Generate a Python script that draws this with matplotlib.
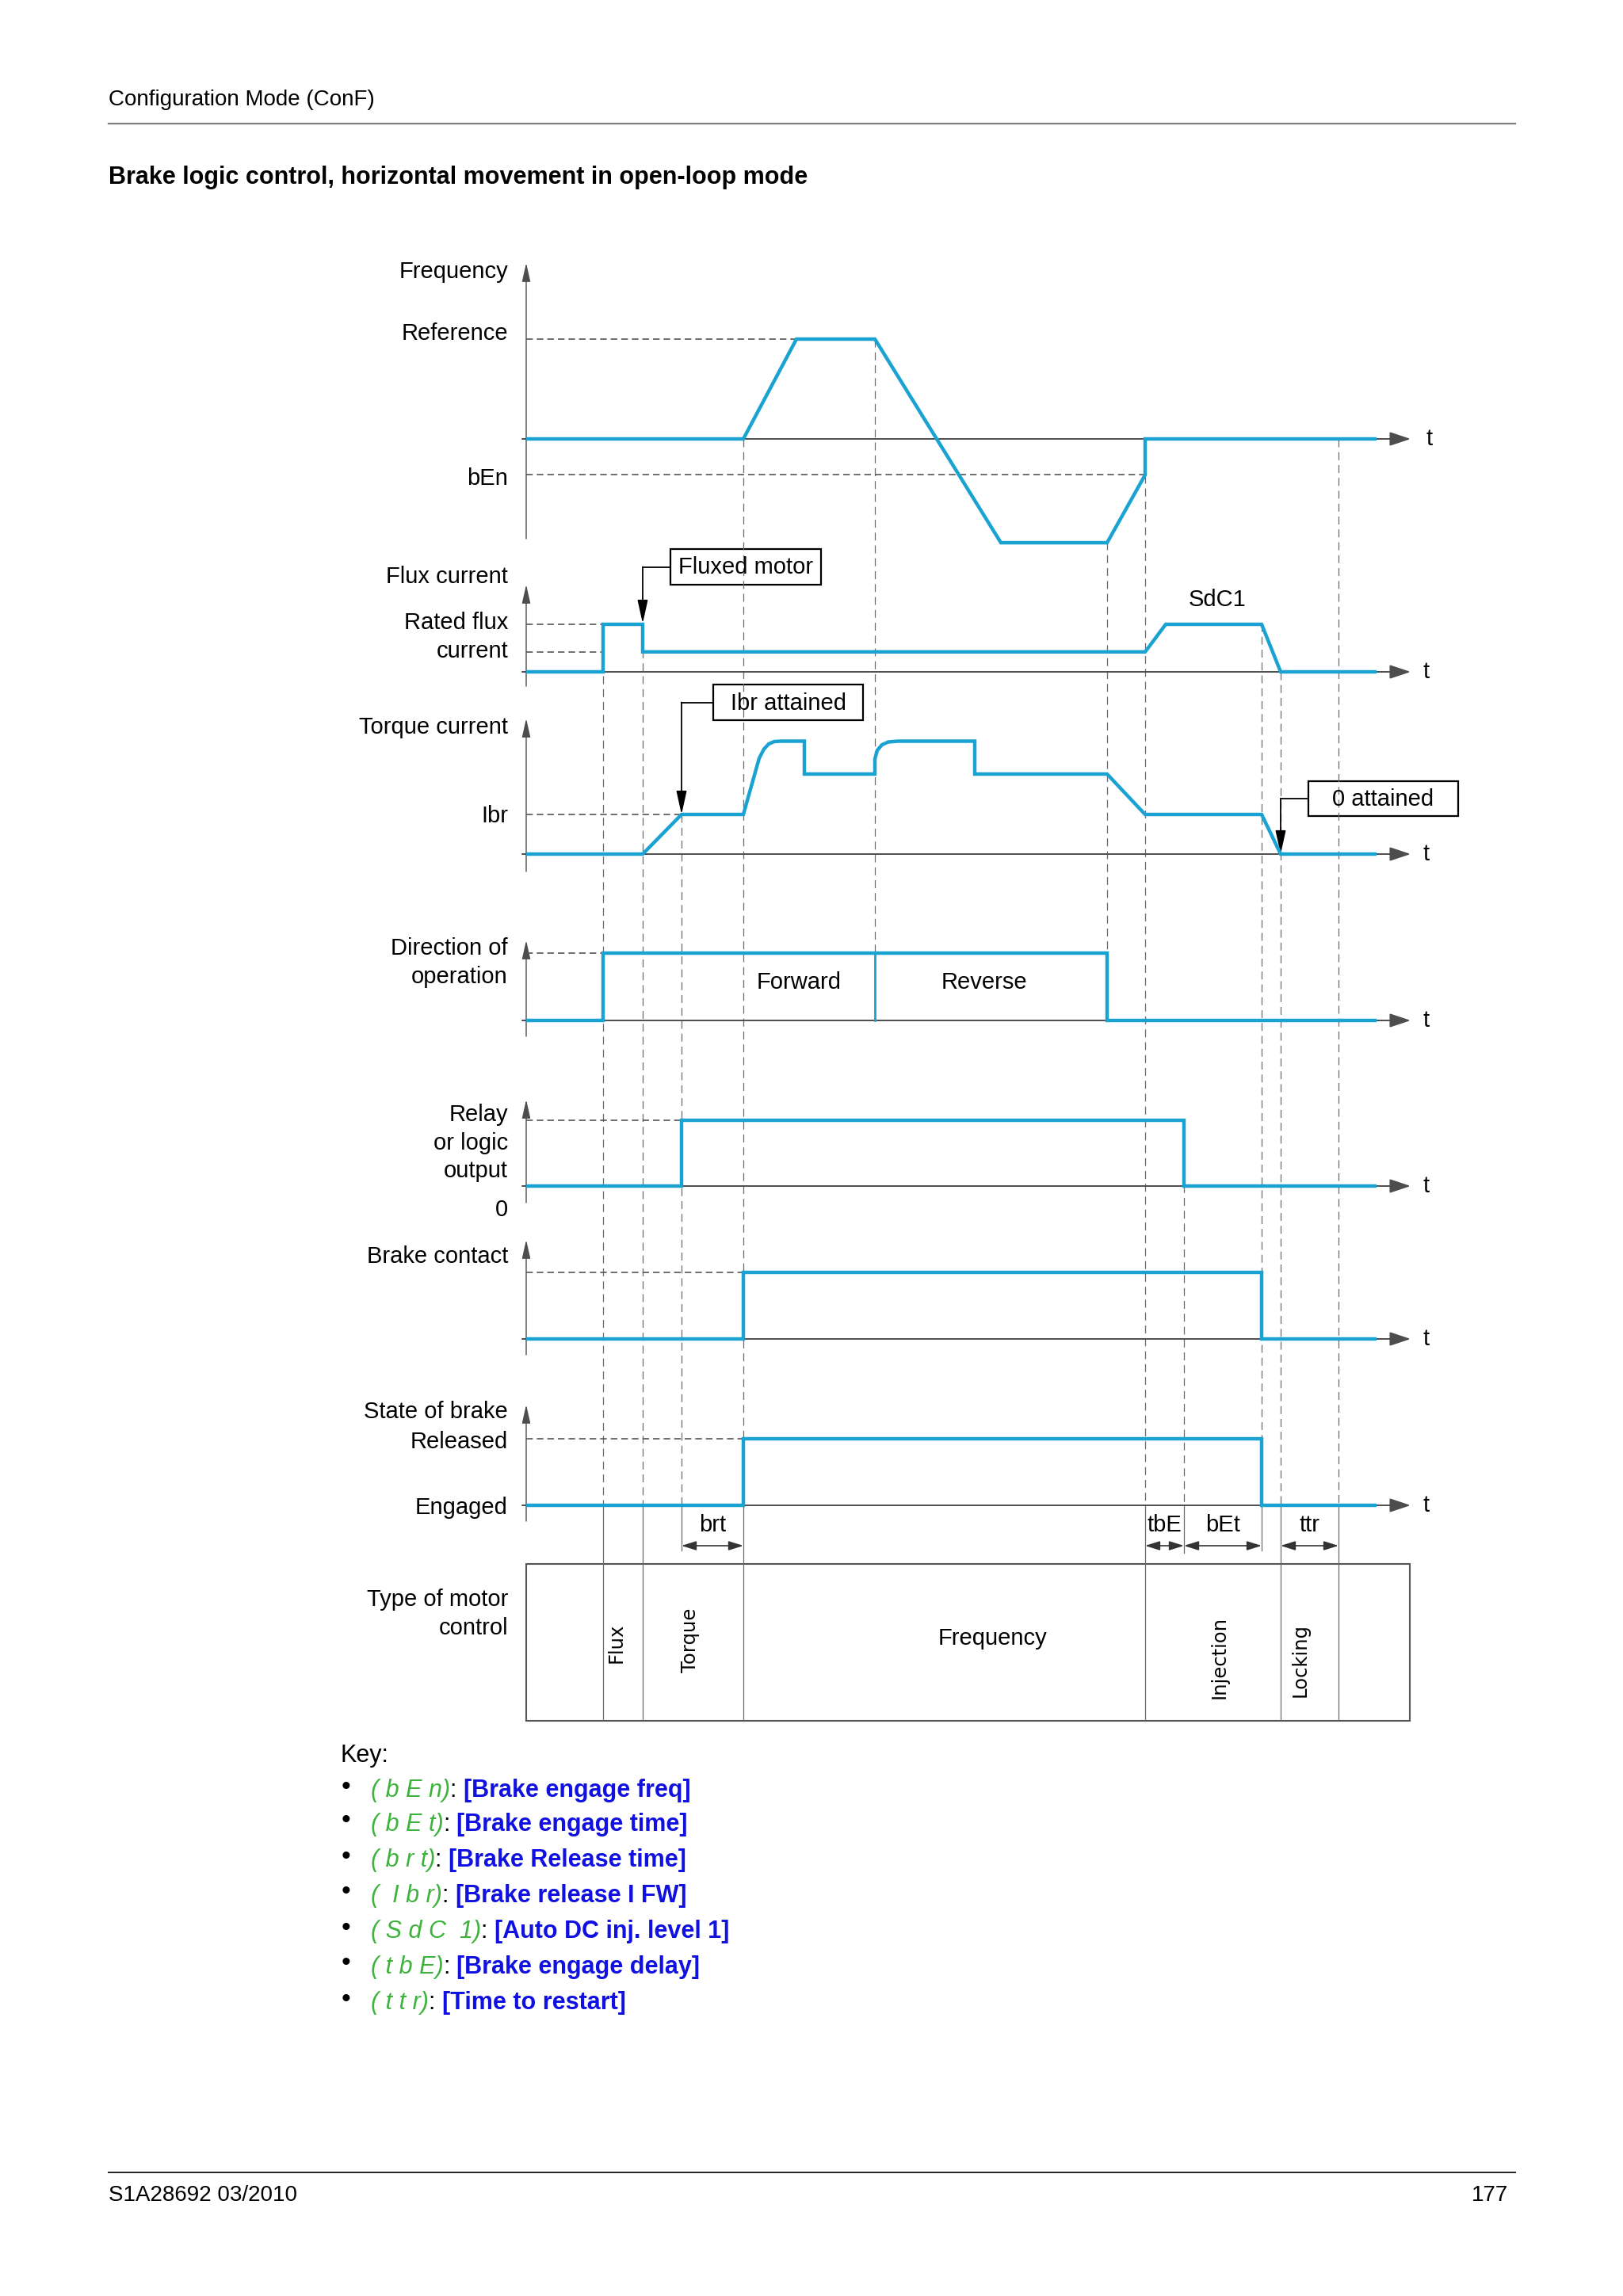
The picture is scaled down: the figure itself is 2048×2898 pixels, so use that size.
import matplotlib.pyplot as plt
from matplotlib.patches import Rectangle

W, H, DPI = 2048, 2898, 100
BLUE = '#19a2d2'
AXC = '#4d4d4d'
plt.rcParams['font.family'] = ['Liberation Sans', 'DejaVu Sans']

# ---- data: time axis in arbitrary units, t = 0 at the vertical axes ----
# event instants (flux on, fluxed, Ibr, release, reverse, slow, bEn, tbE, bEt, 0 attained, ttr)
events = [9.7, 14.7, 19.6, 27.4, 44.0, 73.3, 78.1, 83.0, 92.8, 95.2, 102.5]
t_end = 107.3

freq_t = [0, 27.4, 34.1, 44.0, 59.9, 73.3, 78.1, 78.1, t_end]
freq_hz = [0, 0, 50, 50, -52, -52, -18, 0, 0]
freq_ref, freq_ben = 50, -18

flux_t = [0, 9.7, 9.7, 14.7, 14.7, 78.1, 80.7, 92.8, 95.2, t_end]
flux_pct = [0, 0, 100, 100, 42, 42, 100, 100, 0, 0]

torque_t = [0, 14.7, 19.6, 27.4, 29.4, 30.0, 30.6, 31.3, 32.1, 35.1, 35.1,
            44.0, 44.0, 44.3, 44.9, 45.7, 46.9, 56.6, 56.6, 73.3, 78.1, 92.8, 95.2, t_end]
torque_ibr = [0, 0, 1, 1, 2.42, 2.65, 2.78, 2.84, 2.85, 2.85, 2.02,
              2.02, 2.40, 2.62, 2.76, 2.83, 2.85, 2.85, 2.02, 2.02, 1, 1, 0, 0]

dir_t = [0, 9.7, 9.7, 73.3, 73.3, t_end]
dir_v = [0, 0, 1, 1, 0, 0]
relay_t = [0, 19.6, 19.6, 83.0, 83.0, t_end]
relay_v = [0, 0, 1, 1, 0, 0]
contact_t = [0, 27.4, 27.4, 92.8, 92.8, t_end]
contact_v = [0, 0, 1, 1, 0, 0]
brake_t = [0, 27.4, 27.4, 92.8, 92.8, t_end]
brake_v = [0, 0, 1, 1, 0, 0]

key_codes = [' b E n', ' b E t', ' b r t', '  I b r', ' S d C  1', ' t b E', ' t t r']
key_names = ['[Brake engage freq]', '[Brake engage time]', '[Brake Release time]',
             '[Brake release I FW]', '[Auto DC inj. level 1]', '[Brake engage delay]',
             '[Time to restart]']

# ---- layout (pixels) ----
XLIM = (-66.4, 138.4)
T_TIP = 111.6
# name: (baseline, level line, reference value, axis top, axis bottom)
layout = {
    'freq': (554, 428, freq_ref, 332, 680),
    'flux': (848, 788, 100, 738, 866),
    'torque': (1078, 1028, 1, 907, 1100),
    'dir': (1288, 1203, 1, 1187, 1308),
    'relay': (1497, 1414, 1, 1388, 1518),
    'contact': (1690, 1606, 1, 1565, 1710),
    'brake': (1900, 1816, 1, 1773, 1920),
}

fig = plt.figure(figsize=(W / DPI, H / DPI), dpi=DPI)
pg = fig.add_axes([0, 0, 1, 1])
pg.set_xlim(*XLIM)
pg.set_ylim(H, 0)
pg.axis('off')


def ftext(x, y, s, **kw):
    return fig.text(x / W, 1 - y / H, s, **kw)


def panel(name):
    base, lvl, val, _, _ = layout[name]
    ax = fig.add_axes([0, 0, 1, 1])
    ax.axis('off')
    k = (base - lvl) / val
    ax.set_xlim(*XLIM)
    ax.set_ylim(-(H - base) / k, base / k)
    return ax


# page header / footer
ftext(137, 126, 'Configuration Mode (ConF)', fontsize=20, va='center')
pg.plot([-52.7, 124.8], [156, 156], color='#808080', lw=1.6)
ftext(137, 224, 'Brake logic control, horizontal movement in open-loop mode',
      fontsize=22, fontweight='bold', va='center')
pg.plot([-52.7, 124.8], [2742, 2742], color='#222222', lw=1.4)
ftext(137, 2771, 'S1A28692 03/2010', fontsize=20, va='center')
ftext(1903, 2771, '177', fontsize=20, va='center', ha='right')

# event lines: dashed above the last time axis, solid below it
ev_top = [788, 788, 1028, 554, 428, 684, 600, 1414, 787, 848, 554]
ev_bot = [2172, 2172, 1957, 2172, 1288, 1288, 2172, 1960, 1957, 2172, 2172]
for t, y0, y1 in zip(events, ev_top, ev_bot):
    pg.plot([t, t], [y0, min(y1, 1900)], color='#6a6a6a', lw=0.9, ls=(0, (8, 5)))
    if y1 > 1900:
        pg.plot([t, t], [1900, y1], color='#6a6a6a', lw=0.9)

# axes with arrows
for name, (base, lvl, val, top, bot) in layout.items():
    pg.annotate('', xy=(T_TIP, base), xytext=(-0.5, base),
                arrowprops=dict(arrowstyle='-|>,head_length=0.9,head_width=0.3',
                                mutation_scale=18, color=AXC, lw=1.4, shrinkA=0, shrinkB=0))
    pg.annotate('', xy=(0, top), xytext=(0, bot),
                arrowprops=dict(arrowstyle='-|>,head_length=0.8,head_width=0.18',
                                mutation_scale=18, color=AXC, lw=1.0, shrinkA=0, shrinkB=0))
    pg.text(113.6 if name == 'freq' else 113.1, base, 't', fontsize=21, va='center')

guide = dict(color='#555555', lw=1.2, ls=(0, (5, 3)))
line = dict(color=BLUE, lw=3.2, solid_joinstyle='miter', solid_capstyle='butt')

ax = panel('freq')
ax.plot([0, 34.1], [freq_ref, freq_ref], **guide)
ax.plot([0, 78.1], [freq_ben, freq_ben], **guide)
ax.plot(freq_t, freq_hz, **line)

ax = panel('flux')
ax.plot([0, 9.7], [100, 100], **guide)
ax.plot([0, 9.7], [42, 42], **guide)
ax.plot(flux_t, flux_pct, **line)

ax = panel('torque')
ax.plot([0, 19.6], [1, 1], **guide)
ax.plot(torque_t, torque_ibr, **line)

ax = panel('dir')
ax.plot([0, 9.7], [1, 1], **guide)
ax.plot(dir_t, dir_v, **line)
ax.plot([44.0, 44.0], [0, 1], color=BLUE, lw=2)

ax = panel('relay')
ax.plot([0, 19.6], [1, 1], **guide)
ax.plot(relay_t, relay_v, **line)

ax = panel('contact')
ax.plot([0, 27.4], [1, 1], **guide)
ax.plot(contact_t, contact_v, **line)

ax = panel('brake')
ax.plot([0, 27.4], [1, 1], **guide)
ax.plot(brake_t, brake_v, **line)

# labels left of the axes
left_labels = [('Frequency', 343), ('Reference', 421), ('bEn', 604), ('Flux current', 728),
               ('Rated flux', 786), ('current', 822), ('Torque current', 918), ('Ibr', 1030),
               ('Direction of', 1197), ('operation', 1233), ('Relay', 1407), ('or logic', 1443),
               ('output', 1478), ('0', 1527), ('Brake contact', 1586), ('State of brake', 1782),
               ('Released', 1820), ('Engaged', 1903), ('Type of motor', 2019), ('control', 2055)]
for s, y in left_labels:
    ftext(641, y, s, fontsize=21, ha='right', va='center')

# callout boxes
arr = dict(arrowstyle='-|>,head_length=1.0,head_width=0.22', mutation_scale=18,
           color='black', lw=1.3, shrinkA=0, shrinkB=0)
boxes = [('Fluxed motor', 18.2, 37.2, 693, 738, 14.7, 787),
         ('Ibr attained', 23.6, 42.5, 864, 909, 19.6, 1028),
         ('0 attained', 98.7, 117.6, 986, 1030, 95.2, 1078)]
for s, x0, x1, y0, y1, tt, ty in boxes:
    pg.add_patch(Rectangle((x0, y0), x1 - x0, y1 - y0, fill=False, ec='black', lw=1.6))
    pg.text((x0 + x1) / 2, (y0 + y1) / 2 + 1, s, fontsize=21, ha='center', va='center')
    ym = (y0 + y1) / 2
    pg.plot([x0, tt], [ym, ym], color='black', lw=1.3)
    pg.annotate('', xy=(tt, ty), xytext=(tt, ym), arrowprops=arr)
pg.text(87.2, 757, 'SdC1', fontsize=21, ha='center', va='center')
pg.text(34.4, 1240, 'Forward', fontsize=21, ha='center', va='center')
pg.text(57.8, 1240, 'Reverse', fontsize=21, ha='center', va='center')

# duration arrows
dur = [('brt', 19.6, 27.4), ('tbE', 78.1, 83.0), ('bEt', 83.0, 92.8), ('ttr', 95.2, 102.5)]
darr = dict(arrowstyle='<|-|>,head_length=0.8,head_width=0.25', mutation_scale=14,
            color='#333333', lw=1.2, shrinkA=0, shrinkB=0)
for s, a, b in dur:
    pg.annotate('', xy=(b, 1951), xytext=(a, 1951), arrowprops=darr)
    pg.text((a + b) / 2, 1925, s, fontsize=21, ha='center', va='center')

# motor control table
pg.add_patch(Rectangle((0, 1974), 111.45, 198, fill=False, ec='#555555', lw=1.5))
rot = [('Flux', 11.4, 2074), ('Torque', 20.7, 2070), ('Injection', 87.5, 2092), ('Locking', 97.7, 2096)]
for s, x, y in rot:
    pg.text(x, y, s, fontsize=17.5, family='DejaVu Sans', rotation=90, ha='center', va='center')
pg.text(58.9, 2068, 'Frequency', fontsize=21, ha='center', va='center')

# key
ftext(429, 2216, 'Key:', fontsize=22, va='center')
key_y = [2260, 2303, 2348, 2393, 2438, 2483, 2528]
for code, nm, y in zip(key_codes, key_names, key_y):
    ftext(436, y - 4, '\u2022', fontsize=24, ha='center', va='center')
    g = ftext(468, y, '(' + code + ')', fontsize=22, style='italic',
              color='#3db33d', va='center')
    c = pg.annotate(': ', xy=(1, 0), xycoords=g, va='bottom', ha='left', fontsize=22)
    pg.annotate(nm, xy=(1, 0), xycoords=c, va='bottom', ha='left', fontsize=22,
                fontweight='bold', color='#1010e0')

fig.savefig('out.png', dpi=DPI, facecolor='white')
